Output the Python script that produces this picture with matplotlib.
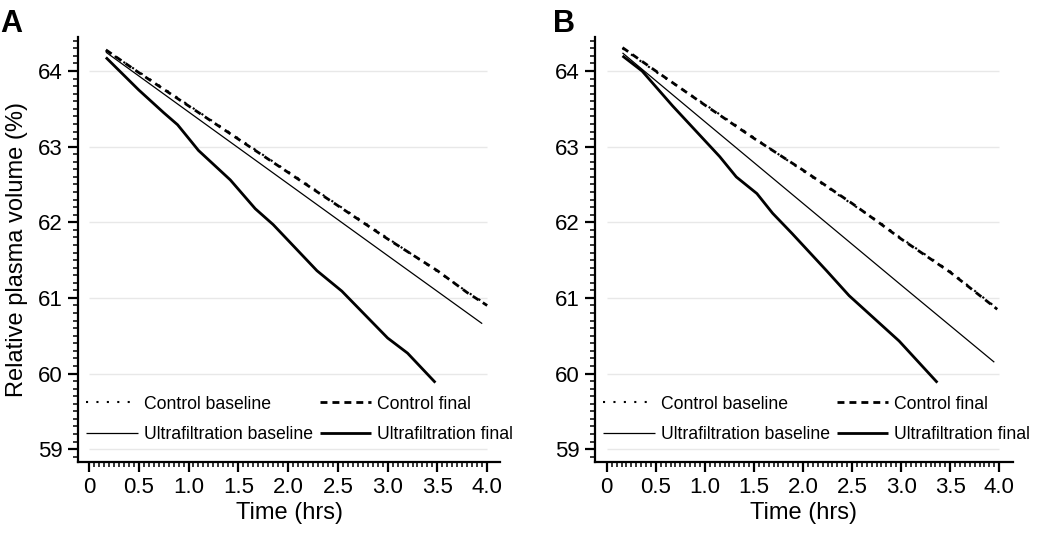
import numpy as np
import matplotlib
matplotlib.use("Agg")
import matplotlib.pyplot as plt
from matplotlib.ticker import FixedLocator

plt.rcParams['font.family'] = ['Liberation Sans', 'DejaVu Sans']

# ---------------- data ---------------- #
# Panel A
a_ctrl_base_t = [0.17, 0.5, 1.0, 1.5, 2.0, 2.5, 3.0, 3.5, 3.8, 4.0]
a_ctrl_base_v = [64.27, 63.99, 63.55, 63.11, 62.67, 62.23, 61.79, 61.35, 61.08, 60.91]
a_ctrl_fin_t = [0.17, 0.5, 1.0, 1.5, 2.0, 2.5, 3.0, 3.5, 3.8, 4.0]
a_ctrl_fin_v = [64.28, 63.98, 63.54, 63.10, 62.66, 62.22, 61.78, 61.36, 61.07, 60.90]
a_uf_base_t = [0.17, 1.0, 2.0, 3.0, 3.95]
a_uf_base_v = [64.25, 63.46, 62.51, 61.56, 60.66]
a_uf_fin_t = [0.17, 0.5, 0.75, 0.89, 1.02, 1.1, 1.42, 1.67, 1.85, 2.29, 2.54, 3.0, 3.2, 3.48]
a_uf_fin_v = [64.18, 63.75, 63.45, 63.29, 63.08, 62.95, 62.56, 62.18, 61.97, 61.36, 61.09, 60.47, 60.27, 59.88]

# Panel B
b_ctrl_base_t = [0.16, 0.5, 1.0, 1.5, 2.0, 2.5, 2.78, 3.0, 3.5, 3.98]
b_ctrl_base_v = [64.30, 63.99, 63.56, 63.12, 62.68, 62.24, 62.00, 61.79, 61.35, 60.86]
b_ctrl_fin_t = [0.16, 0.5, 1.0, 1.5, 2.0, 2.5, 2.78, 3.0, 3.5, 3.98]
b_ctrl_fin_v = [64.31, 64.00, 63.55, 63.11, 62.69, 62.25, 61.99, 61.78, 61.34, 60.85]
b_uf_base_t = [0.16, 1.0, 2.0, 3.0, 3.95]
b_uf_base_v = [64.24, 63.33, 62.25, 61.17, 60.15]
b_uf_fin_t = [0.16, 0.36, 0.67, 1.15, 1.32, 1.53, 1.69, 1.89, 2.24, 2.47, 2.98, 3.37]
b_uf_fin_v = [64.20, 64.00, 63.54, 62.87, 62.60, 62.38, 62.12, 61.85, 61.36, 61.03, 60.43, 59.88]

panels = [
    ("A", [a_ctrl_base_t, a_ctrl_fin_t, a_uf_base_t, a_uf_fin_t],
          [a_ctrl_base_v, a_ctrl_fin_v, a_uf_base_v, a_uf_fin_v]),
    ("B", [b_ctrl_base_t, b_ctrl_fin_t, b_uf_base_t, b_uf_fin_t],
          [b_ctrl_base_v, b_ctrl_fin_v, b_uf_base_v, b_uf_fin_v]),
]
labels = ["Control baseline", "Control final", "Ultrafiltration baseline", "Ultrafiltration final"]
styles = [
    dict(lw=1.5, ls=(0, (1, 4))),
    dict(lw=2.0, ls=(0, (2.5, 1.8))),
    dict(lw=0.9, ls='-'),
    dict(lw=2.0, ls='-'),
]
xticks = [0, 0.5, 1.0, 1.5, 2.0, 2.5, 3.0, 3.5, 4.0]
xticklabels = ["0", "0.5", "1.0", "1.5", "2.0", "2.5", "3.0", "3.5", "4.0"]
yticks = [59, 60, 61, 62, 63, 64]

# ---------------- figure ---------------- #
fig = plt.figure(figsize=(10.5, 5.35), dpi=100)
ax_boxes = [[0.0743, 0.1364, 0.402, 0.7944], [0.5667, 0.1364, 0.398, 0.7944]]
xlims = [(-0.11, 4.13), (-0.12, 4.14)]
letter_x = [0.0, 0.527]

for i, (letter, ts, vs) in enumerate(panels):
    ax = fig.add_axes(ax_boxes[i])
    ax.hlines(yticks, 0, 4.0, color='#e8e8e8', lw=1.0, zorder=0)
    lines = []
    for t, v, lab, st in zip(ts, vs, labels, styles):
        ln, = ax.plot(t, v, color='black', label=lab, solid_capstyle='butt',
                      dash_capstyle='butt', **st)
        lines.append(ln)

    ax.set_xlim(*xlims[i])
    ax.set_ylim(58.83, 64.45)
    ax.set_xticks(xticks)
    ax.set_xticklabels(xticklabels)
    ax.set_yticks(yticks)
    ax.xaxis.set_minor_locator(FixedLocator(np.arange(0, 4.001, 0.05)))
    ax.yaxis.set_minor_locator(FixedLocator(np.arange(58.9, 64.41, 0.1)))
    ax.tick_params(which='major', length=7, width=1.6, labelsize=16, pad=4, color='black')
    ax.tick_params(which='minor', length=3.5, width=1.1, color='black')
    for s in ['top', 'right']:
        ax.spines[s].set_visible(False)
    for s in ['left', 'bottom']:
        ax.spines[s].set_linewidth(1.6)

    ax.set_xlabel("Time (hrs)", fontsize=17, labelpad=3)
    if i == 0:
        ax.set_ylabel("Relative plasma volume (%)", fontsize=17, labelpad=7)

    # row-wise order: control baseline / control final, then UF baseline / UF final
    order = [0, 2, 1, 3]
    ax.legend([lines[k] for k in order], [labels[k] for k in order],
              loc='lower left', bbox_to_anchor=(0.02, 0.045), ncol=2,
              frameon=False, fontsize=12.7, handlelength=2.9,
              handletextpad=0.35, columnspacing=0.4, labelspacing=0.75,
              borderpad=0, borderaxespad=0)

    fig.text(letter_x[i], 0.94, letter, fontsize=22, fontweight='bold')

fig.savefig("out.png", dpi=100)
